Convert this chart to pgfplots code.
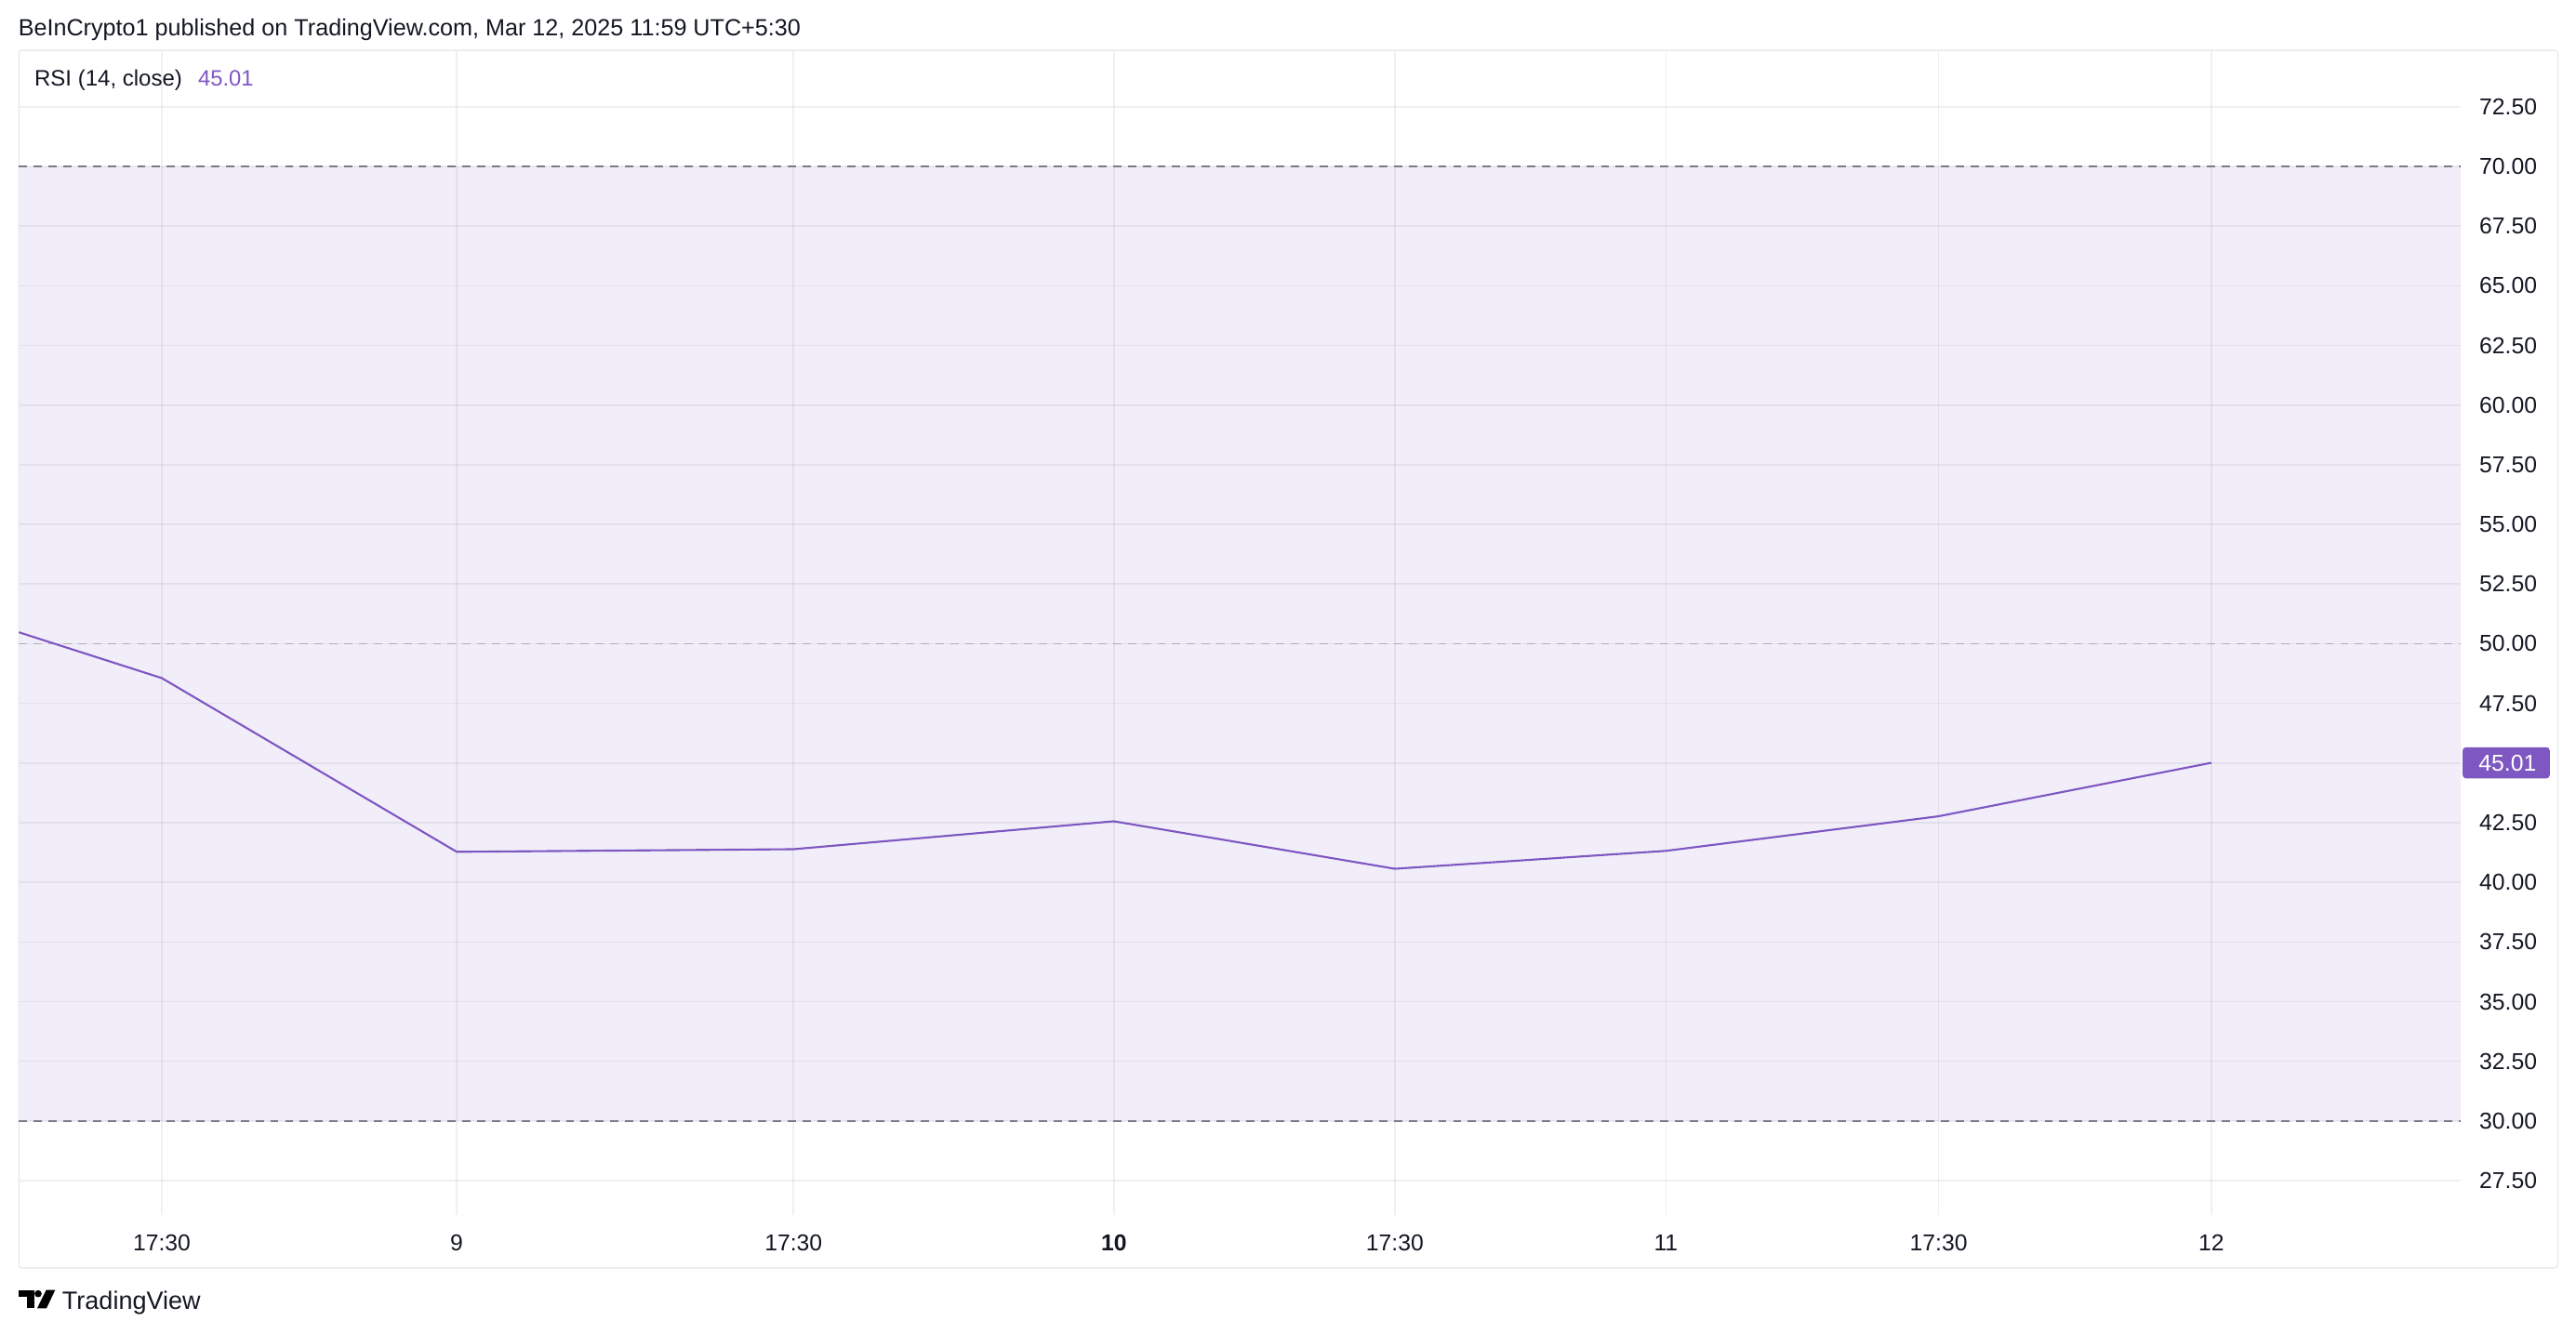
\documentclass[border=0pt]{standalone}
\usepackage{pgfplots}
\pgfplotsset{compat=1.18}
\usepackage{fontspec}
\setmainfont{Liberation Sans}
\definecolor{rsi}{RGB}{126,87,194}
\definecolor{band}{RGB}{242,238,249}
\definecolor{gridc}{RGB}{42,46,57}
\definecolor{dashc}{RGB}{120,123,134}
\definecolor{txt}{RGB}{19,23,34}
\definecolor{framec}{RGB}{233,234,239}
\newcommand\fs[1]{\fontsize{#1}{#1}\selectfont}
\begin{document}
\begin{tikzpicture}
\path (0pt,0pt) rectangle (1568pt,812pt);
% chart frame
\draw[framec, line width=0.8pt, rounded corners=2pt] (11.5pt,40pt) rectangle (1557pt,781.4pt);
% header
\node[anchor=base west, inner sep=0pt, text=txt] at (11pt,790pt) {\fs{14.25pt}BeInCrypto1 published on TradingView.com, Mar 12, 2025 11:59 UTC+5:30};
\begin{axis}[
  at={(11.5pt,72pt)}, anchor=south west,
  scale only axis, width=1486.5pt, height=709.4pt,
  xmin=11.5, xmax=1498, ymin=26.05, ymax=74.87,
  set layers, clip=false,
  axis line style={draw=none},
  major tick length=0pt,
  grid=major,
  major grid style={draw=gridc, draw opacity=0.07, line width=0.9pt},
  xtick={98.5,278,483,678,849,1014,1180,1346},
  xticklabels={17:30,9,17:30,\textbf{10},17:30,11,17:30,12},
  xticklabel style={anchor=base, inner sep=0pt, yshift=-21.9pt, text=txt, font=\fs{14pt}},
  ytick={27.5,30,32.5,35,37.5,40,42.5,45,47.5,50,52.5,55,57.5,60,62.5,65,67.5,70,72.5},
  yticklabels={27.50,30.00,32.50,35.00,37.50,40.00,42.50,,47.50,50.00,52.50,55.00,57.50,60.00,62.50,65.00,67.50,70.00,72.50},
  yticklabel pos=right,
  yticklabel style={anchor=west, inner sep=0pt, xshift=11pt, text=txt, font=\fs{14pt}},
]
% RSI band
\addplot[fill=band, draw=none, on layer=axis background] coordinates {(11.5,30) (1498,30) (1498,70) (11.5,70) (11.5,30)};
% levels
\addplot[dashc, line width=1pt, dash pattern=on 5pt off 4pt] coordinates {(11.5,70) (1498,70)};
\addplot[dashc, draw opacity=0.5, line width=1pt, dash pattern=on 5pt off 4pt] coordinates {(11.5,50) (1498,50)};
\addplot[dashc, line width=1pt, dash pattern=on 5pt off 4pt] coordinates {(11.5,30) (1498,30)};
% RSI line
\addplot[rsi, line width=1.2pt, line join=round] coordinates {
(11.5,50.48) (98.5,48.56) (278,41.28) (483,41.39) (678,42.56) (849,40.57) (1014,41.32) (1180,42.77) (1346,45.01)
};
% value tag
\fill[rsi, rounded corners=2pt] ([yshift=-9.5pt]axis cs:1499,45.01) rectangle ([xshift=53pt,yshift=9.5pt]axis cs:1499,45.01);
\node[anchor=west, inner sep=0pt, text=white, font=\fs{14pt}] at ([xshift=9.6pt]axis cs:1499,45.01) {45.01};
\end{axis}
% legend
\node[anchor=base west, inner sep=0pt, text=txt] at (20.8pt,759.7pt) {\fs{13.6pt}RSI (14, close)};
\node[anchor=base west, inner sep=0pt, text=rsi] at (120.4pt,759.7pt) {\fs{13.5pt}45.01};
% TradingView logo
\begin{scope}[shift={(11.32pt,26.5pt)}, x=0.18868pt, y=-0.18868pt]
  \fill[black] (0,0) rectangle (52,23);
  \fill[black] (28,0) rectangle (52,59);
  \fill[black] (63,12) circle[radius=11.5];
  \fill[black] (89,0) -- (118,0) -- (90,59) -- (60,59) -- cycle;
\end{scope}
\node[anchor=base west, inner sep=0pt, text=txt] at (37.7pt,14.8pt) {\fs{15.3pt}TradingView};
\end{tikzpicture}
\end{document}
